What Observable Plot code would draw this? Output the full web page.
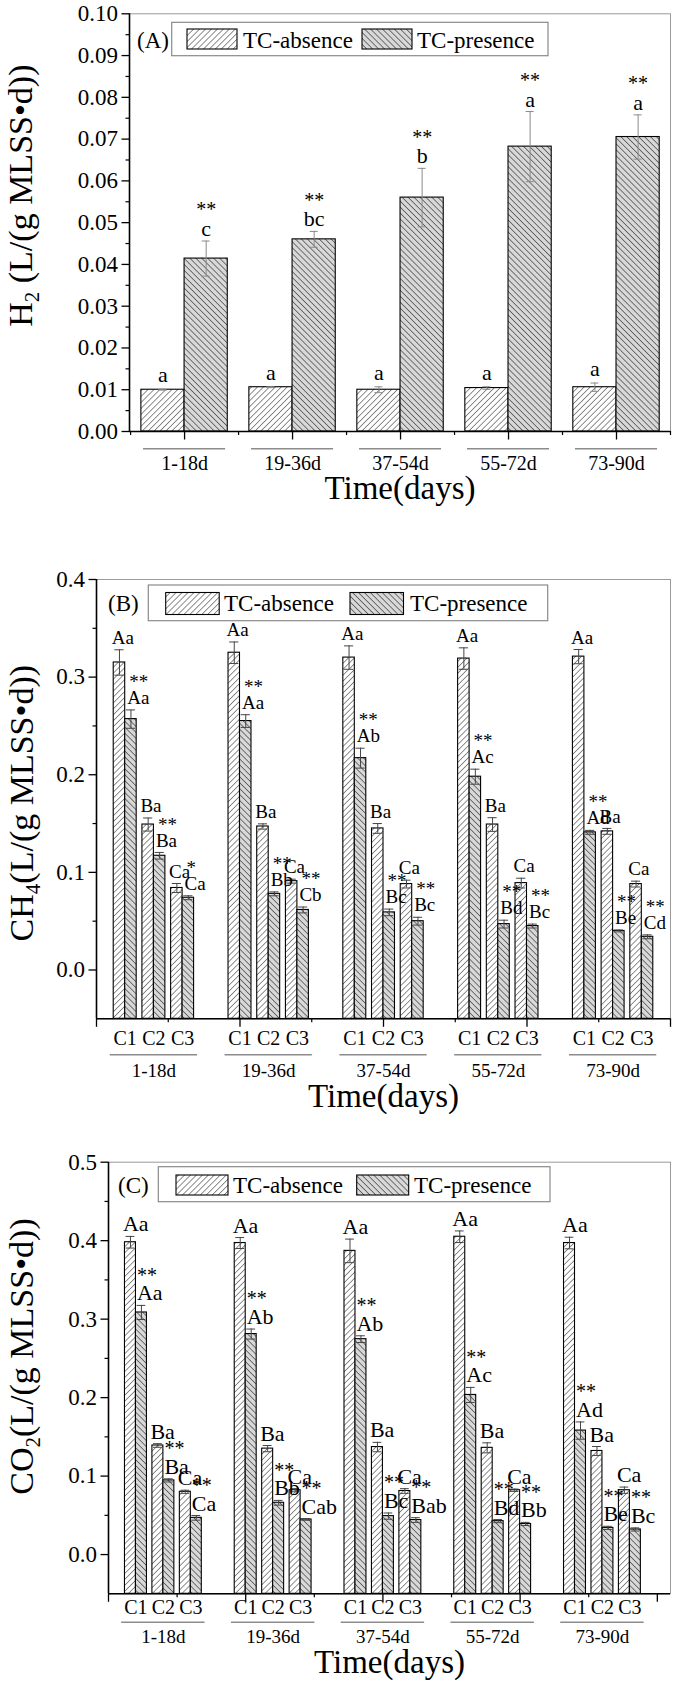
<!DOCTYPE html>
<html><head><meta charset="utf-8">
<script src="https://cdn.jsdelivr.net/npm/d3@7"></script>
<script src="https://cdn.jsdelivr.net/npm/@observablehq/plot@0.6"></script>
<style>
html,body{margin:0;padding:0;background:#fff;}
#chart svg{display:block;}
</style></head><body>
<svg width="0" height="0" style="position:absolute">
<defs>
<pattern id="hatchAbs" patternUnits="userSpaceOnUse" width="4.2" height="4.2" patternTransform="rotate(45)">
<rect width="4.2" height="4.2" fill="#ffffff"/>
<line x1="2.1" y1="-1" x2="2.1" y2="6" stroke="#606060" stroke-width="0.7"/>
</pattern>
<pattern id="hatchPres" patternUnits="userSpaceOnUse" width="4.2" height="4.2" patternTransform="rotate(-45)">
<rect width="4.2" height="4.2" fill="#d8d8d8"/>
<line x1="2.1" y1="-1" x2="2.1" y2="6" stroke="#454545" stroke-width="0.7"/>
</pattern>
</defs></svg>
<div id="chart"></div>
<script>
const FONT = "'Liberation Serif', 'Times New Roman', Times, serif";

// ---------- shared categories ----------
const periods = ["1-18d", "19-36d", "37-54d", "55-72d", "73-90d"];
const stages = ["C1", "C2", "C3"];
const seriesNames = ["TC-absence", "TC-presence"];
const xTitle = "Time(days)";

// ---------- Panel A: H2 ----------
const h2Absence   = [0.0100, 0.0106, 0.0100, 0.0104, 0.0106];
const h2AbsenceSD = [0.0001, 0.0001, 0.0007, 0.0003, 0.0010];
const h2Presence   = [0.0414, 0.0460, 0.0560, 0.0682, 0.0705];
const h2PresenceSD = [0.0042, 0.0019, 0.0070, 0.0084, 0.0053];
const h2AbsenceLetters  = ["a", "a", "a", "a", "a"];
const h2PresenceLetters = ["c", "bc", "b", "a", "a"];
const h2PresenceStars   = ["**", "**", "**", "**", "**"];
const h2Ticks = [0, 0.01, 0.02, 0.03, 0.04, 0.05, 0.06, 0.07, 0.08, 0.09, 0.10];
const h2MinorTicks = [0.005, 0.015, 0.025, 0.035, 0.045, 0.055, 0.065, 0.075, 0.085, 0.095];

// ---------- Panel B: CH4 ----------
const ch4Absence = [[0.315, 0.149, 0.084], [0.325, 0.147, 0.091], [0.320, 0.145, 0.088], [0.319, 0.149, 0.089], [0.321, 0.142, 0.088]];
const ch4AbsenceSD = [[0.013, 0.0067, 0.0046], [0.011, 0.0027, 0.002], [0.012, 0.005, 0.004], [0.011, 0.007, 0.005], [0.0073, 0.003, 0.003]];
const ch4Presence = [[0.257, 0.117, 0.074], [0.255, 0.078, 0.0615], [0.217, 0.059, 0.050], [0.198, 0.047, 0.045], [0.141, 0.040, 0.034]];
const ch4PresenceSD = [[0.0094, 0.0034, 0.002], [0.0065, 0.002, 0.003], [0.0102, 0.0034, 0.004], [0.0077, 0.004, 0.002], [0.002, 0.001, 0.002]];
const ch4AbsenceLetters = [["Aa", "Ba", "Ca"], ["Aa", "Ba", "Ca"], ["Aa", "Ba", "Ca"], ["Aa", "Ba", "Ca"], ["Aa", "Ba", "Ca"]];
const ch4PresenceLetters = [["Aa", "Ba", "Ca"], ["Aa", "Bb", "Cb"], ["Ab", "Bc", "Bc"], ["Ac", "Bd", "Bc"], ["Ad", "Be", "Cd"]];
const ch4PresenceStars = [["**", "**", "*"], ["**", "**", "**"], ["**", "**", "**"], ["**", "**", "**"], ["**", "**", "**"]];
const ch4Ticks = [0, 0.1, 0.2, 0.3, 0.4];
const ch4MinorTicks = [0.05, 0.15, 0.25, 0.35];

// ---------- Panel C: CO2 ----------
const co2Absence = [[0.398, 0.139, 0.080], [0.397, 0.135, 0.082], [0.387, 0.137, 0.081], [0.405, 0.136, 0.082], [0.397, 0.132, 0.082]];
const co2AbsenceSD = [[0.0074, 0.0023, 0.002], [0.007, 0.004, 0.002], [0.015, 0.006, 0.003], [0.0074, 0.0064, 0.0015], [0.0074, 0.0057, 0.004]];
const co2Presence = [[0.3085, 0.0945, 0.0468], [0.281, 0.066, 0.0447], [0.2745, 0.049, 0.044], [0.2034, 0.0426, 0.039], [0.158, 0.034, 0.032]];
const co2PresenceSD = [[0.009, 0.002, 0.003], [0.0064, 0.003, 0.001], [0.0043, 0.004, 0.003], [0.0096, 0.002, 0.002], [0.011, 0.002, 0.002]];
const co2AbsenceLetters = [["Aa", "Ba", "Ca"], ["Aa", "Ba", "Ca"], ["Aa", "Ba", "Ca"], ["Aa", "Ba", "Ca"], ["Aa", "Ba", "Ca"]];
const co2PresenceLetters = [["Aa", "Ba", "Ca"], ["Ab", "Bb", "Cab"], ["Ab", "Bc", "Bab"], ["Ac", "Bd", "Bb"], ["Ad", "Be", "Bc"]];
const co2PresenceStars = [["**", "**", "**"], ["**", "**", "**"], ["**", "**", "**"], ["**", "**", "**"], ["**", "**", "**"]];
const co2Ticks = [0, 0.1, 0.2, 0.3, 0.4, 0.5];
const co2MinorTicks = [0.05, 0.15, 0.25, 0.35, 0.45];

// ---------- row builders ----------
function rowsSimple(absV, absE, presV, presE, absL, presL, presS) {
  const rows = [];
  periods.forEach((p, i) => {
    const g = i + 1;
    rows.push({period: p, series: seriesNames[0], x1: g - 0.4, x2: g, value: absV[i], sd: absE[i], letter: absL[i], stars: ""});
    rows.push({period: p, series: seriesNames[1], x1: g, x2: g + 0.4, value: presV[i], sd: presE[i], letter: presL[i], stars: presS[i]});
  });
  rows.forEach(d => d.xc = (d.x1 + d.x2) / 2);
  return rows;
}
function rowsStaged(absV, absE, presV, presE, absL, presL, presS) {
  const rows = [];
  periods.forEach((p, i) => {
    stages.forEach((s, k) => {
      const c = i + 1 + (k - 1) * 0.25;
      rows.push({period: p, stage: s, series: seriesNames[0], x1: c - 0.1, x2: c, value: absV[i][k], sd: absE[i][k], letter: absL[i][k], stars: ""});
      rows.push({period: p, stage: s, series: seriesNames[1], x1: c, x2: c + 0.1, value: presV[i][k], sd: presE[i][k], letter: presL[i][k], stars: presS[i][k]});
    });
  });
  rows.forEach(d => d.xc = (d.x1 + d.x2) / 2);
  return rows;
}
const periodRows = periods.map((p, i) => ({period: p, g: i + 1}));
const stageRows = periods.flatMap((p, i) => stages.map((s, k) => ({stage: s, c: i + 1 + (k - 1) * 0.25})));

function makePanel(cfg) {
  const rows = cfg.rows;
  const yMin = cfg.yDomain[0];
  const abs = rows.filter(d => d.series === seriesNames[0]);
  const pres = rows.filter(d => d.series === seriesNames[1]);
  const top = d => d.value + d.sd;
  const lx = cfg.labelStart ? "x1" : "xc";
  const ta = cfg.labelStart ? "start" : "middle";
  const marks = [
    Plot.frame({stroke: "#9a9a9a", strokeWidth: 1}),
    Plot.rect(abs, {x1: "x1", x2: "x2", y1: yMin, y2: "value", fill: "url(#hatchAbs)", stroke: "black", strokeWidth: 1.1}),
    Plot.rect(pres, {x1: "x1", x2: "x2", y1: yMin, y2: "value", fill: "url(#hatchPres)", stroke: "black", strokeWidth: 1.1}),
    Plot.ruleX(rows, {x: "xc", y1: d => d.value - d.sd, y2: top, stroke: cfg.errColor, strokeWidth: 1}),
    Plot.ruleY(rows, {y: top, x1: d => d.xc - cfg.cap, x2: d => d.xc + cfg.cap, stroke: cfg.errColor, strokeWidth: 1}),
    Plot.ruleY(rows, {y: d => d.value - d.sd, x1: d => d.xc - cfg.cap, x2: d => d.xc + cfg.cap, stroke: cfg.errColor, strokeWidth: 1}),
    Plot.text(abs, {x: lx, y: top, text: "letter", dy: cfg.absDy, dx: cfg.absDx, textAnchor: ta, lineAnchor: "middle", fontSize: cfg.letterSize}),
    Plot.text(pres, {x: lx, y: top, text: "letter", dy: cfg.presDy, dx: cfg.presDx, textAnchor: ta, lineAnchor: "middle", fontSize: cfg.letterSize}),
    Plot.text(pres, {x: lx, y: top, text: "stars", dy: cfg.starDy, dx: cfg.starDx, textAnchor: ta, lineAnchor: "middle", fontSize: cfg.starSize}),
    Plot.ruleX([cfg.xDomain[0]], {stroke: "black", strokeWidth: 1.6}),
    Plot.ruleY([yMin], {stroke: "black", strokeWidth: 1.6}),
    Plot.axisY({ticks: cfg.yTicks, tickFormat: cfg.yFormat, tickSize: 7.5, tickPadding: 4, label: null, fontSize: 23, strokeWidth: 1.3}),
    Plot.axisY({ticks: cfg.yMinor, tickFormat: () => "", tickSize: 3.5, label: null, strokeWidth: 1.2}),
    Plot.axisX({ticks: cfg.xMajor, tickFormat: () => "", tickSize: 8.5, label: null, strokeWidth: 1.3}),
    Plot.axisX({ticks: cfg.xMinor, tickFormat: () => "", tickSize: 4, label: null, strokeWidth: 1.2}),
    Plot.ruleY(periodRows, {x1: d => d.g - 0.38, x2: d => d.g + 0.38, y: yMin, dy: cfg.lineDy, stroke: "#8c8c8c", strokeWidth: 1.6}),
    Plot.text(periodRows, {x: "g", frameAnchor: "bottom", text: "period", dy: cfg.groupDy, lineAnchor: "middle", textAnchor: "middle", fontSize: cfg.groupSize}),
    Plot.text([xTitle], {frameAnchor: "bottom", text: d => d, dy: cfg.timeDy, lineAnchor: "bottom", textAnchor: "middle", fontSize: 33}),
    Plot.text([cfg.title.join("")], {frameAnchor: "left", text: d => d, rotate: -90, dx: cfg.titleX - cfg.marginLeft, dy: cfg.titleDy, lineAnchor: "bottom", textAnchor: "middle", fontSize: 34})
  ];
  if (cfg.staged) {
    marks.push(Plot.text(stageRows, {x: "c", frameAnchor: "bottom", text: "stage", dy: cfg.stageDy, lineAnchor: "middle", textAnchor: "middle", fontSize: 20}));
  }
  const svg = Plot.plot({
    width: 675, height: cfg.height,
    marginTop: cfg.marginTop, marginBottom: cfg.marginBottom, marginLeft: cfg.marginLeft, marginRight: cfg.marginRight,
    x: {type: "linear", domain: cfg.xDomain, label: null},
    y: {type: "linear", domain: cfg.yDomain, label: null},
    style: {fontFamily: FONT, fontSize: "23px", background: "white", color: "black", overflow: "visible"},
    marks
  });
  const s = d3.select(svg);
  // subscript in y title
  const full = cfg.title.join("");
  s.selectAll("text").filter(function() { return this.textContent === full; }).each(function() {
    const t = d3.select(this);
    t.text(null);
    t.append("tspan").text(cfg.title[0]);
    t.append("tspan").attr("font-size", 21).attr("dy", 7).text(cfg.title[1]);
    t.append("tspan").attr("dy", -7).text(cfg.title[2]);
  });
  // legend
  const L = cfg.legend;
  const g = s.append("g").attr("font-family", FONT).attr("font-size", 23).attr("fill", "black").attr("text-anchor", "start");
  g.append("text").attr("x", L.labelX).attr("y", L.textY).attr("dy", "0.34em").attr("text-anchor", "start").text(cfg.panelLabel);
  g.append("rect").attr("x", L.box[0]).attr("y", L.box[1]).attr("width", L.box[2]).attr("height", L.box[3])
    .attr("fill", "white").attr("stroke", "#8a8a8a").attr("stroke-width", 1.2);
  g.append("rect").attr("x", L.sw1).attr("y", L.swY).attr("width", L.swW).attr("height", L.swH)
    .attr("fill", "url(#hatchAbs)").attr("stroke", "black").attr("stroke-width", 1.1);
  g.append("text").attr("x", L.t1).attr("y", L.textY).attr("dy", "0.34em").attr("text-anchor", "start").text(seriesNames[0]);
  g.append("rect").attr("x", L.sw2).attr("y", L.swY).attr("width", L.swW).attr("height", L.swH)
    .attr("fill", "url(#hatchPres)").attr("stroke", "black").attr("stroke-width", 1.1);
  g.append("text").attr("x", L.t2).attr("y", L.textY).attr("dy", "0.34em").attr("text-anchor", "start").text(seriesNames[1]);
  return svg;
}

const chart = document.getElementById("chart");

chart.appendChild(makePanel({
  rows: rowsSimple(h2Absence, h2AbsenceSD, h2Presence, h2PresenceSD, h2AbsenceLetters, h2PresenceLetters, h2PresenceStars),
  staged: false, height: 540, marginTop: 13.3, marginBottom: 109, marginLeft: 129, marginRight: 5,
  xDomain: [0.49, 5.5], xMajor: [1, 2, 3, 4, 5], xMinor: [0.5, 1.5, 2.5, 3.5, 4.5, 5.5],
  yDomain: [0, 0.1], yTicks: h2Ticks, yMinor: h2MinorTicks, yFormat: d3.format(".2f"),
  cap: 0.037, errColor: "#8a8a8a", labelStart: false, absDx: 0, presDx: 0, starDx: 0,
  letterSize: 22, starSize: 20, absDy: -14, presDy: -12, starDy: -31,
  lineDy: 17.3, groupDy: 32, groupSize: 20, timeDy: 67,
  title: ["H", "2", " (L/(g MLSS\u2022d))"], titleX: 31, titleDy: -27,
  panelLabel: "(A)",
  legend: {box: [171.7, 22.3, 376.3, 33.4], labelX: 137, textY: 40, sw1: 187, sw2: 362, swY: 29, swW: 50, swH: 20, t1: 243, t2: 417}
}));

chart.appendChild(makePanel({
  rows: rowsStaged(ch4Absence, ch4AbsenceSD, ch4Presence, ch4PresenceSD, ch4AbsenceLetters, ch4PresenceLetters, ch4PresenceStars),
  staged: true, height: 585, marginTop: 39, marginBottom: 106.7, marginLeft: 96, marginRight: 5,
  xDomain: [0.5, 5.5], xMajor: [0.5, 1.75, 3, 4.25, 5.5], xMinor: [1.125, 2.375, 3.625, 4.875],
  yDomain: [-0.05, 0.4], yTicks: ch4Ticks, yMinor: ch4MinorTicks, yFormat: d3.format(".1f"),
  cap: 0.04, errColor: "#444", labelStart: true, absDx: -2, presDx: 2, starDx: 4,
  letterSize: 19, starSize: 19, absDy: -12, presDy: -12, starDy: -28,
  stageDy: 20, lineDy: 36, groupDy: 52, groupSize: 19, timeDy: 88,
  title: ["CH", "4", "(L/(g MLSS\u2022d))"], titleX: 32, titleDy: 4,
  panelLabel: "(B)",
  legend: {box: [148.3, 45, 399.4, 35.7], labelX: 108, textY: 63, sw1: 165.7, sw2: 350, swY: 52.5, swW: 53.5, swH: 22, t1: 224, t2: 410}
}));

chart.appendChild(makePanel({
  rows: rowsStaged(co2Absence, co2AbsenceSD, co2Presence, co2PresenceSD, co2AbsenceLetters, co2PresenceLetters, co2PresenceStars),
  staged: true, height: 557, marginTop: 36.7, marginBottom: 88.7, marginLeft: 108, marginRight: 5,
  xDomain: [0.5, 5.62], xMajor: [0.5, 1.75, 3, 4.25, 5.5], xMinor: [1.125, 2.375, 3.625, 4.875],
  yDomain: [-0.05, 0.5], yTicks: co2Ticks, yMinor: co2MinorTicks, yFormat: d3.format(".1f"),
  cap: 0.04, errColor: "#444", labelStart: true, absDx: -2, presDx: 1, starDx: 1,
  letterSize: 22, starSize: 20, absDy: -12, presDy: -12, starDy: -30,
  stageDy: 13.4, lineDy: 28.4, groupDy: 42.7, groupSize: 19, timeDy: 79,
  title: ["CO", "2", "(L/(g MLSS\u2022d))"], titleX: 32, titleDy: -21.5,
  panelLabel: "(C)",
  legend: {box: [158.3, 41.7, 391.7, 35], labelX: 118, textY: 60, sw1: 176, sw2: 356.7, swY: 50, swW: 52, swH: 20, t1: 233, t2: 414}
}));
</script>
</body></html>
